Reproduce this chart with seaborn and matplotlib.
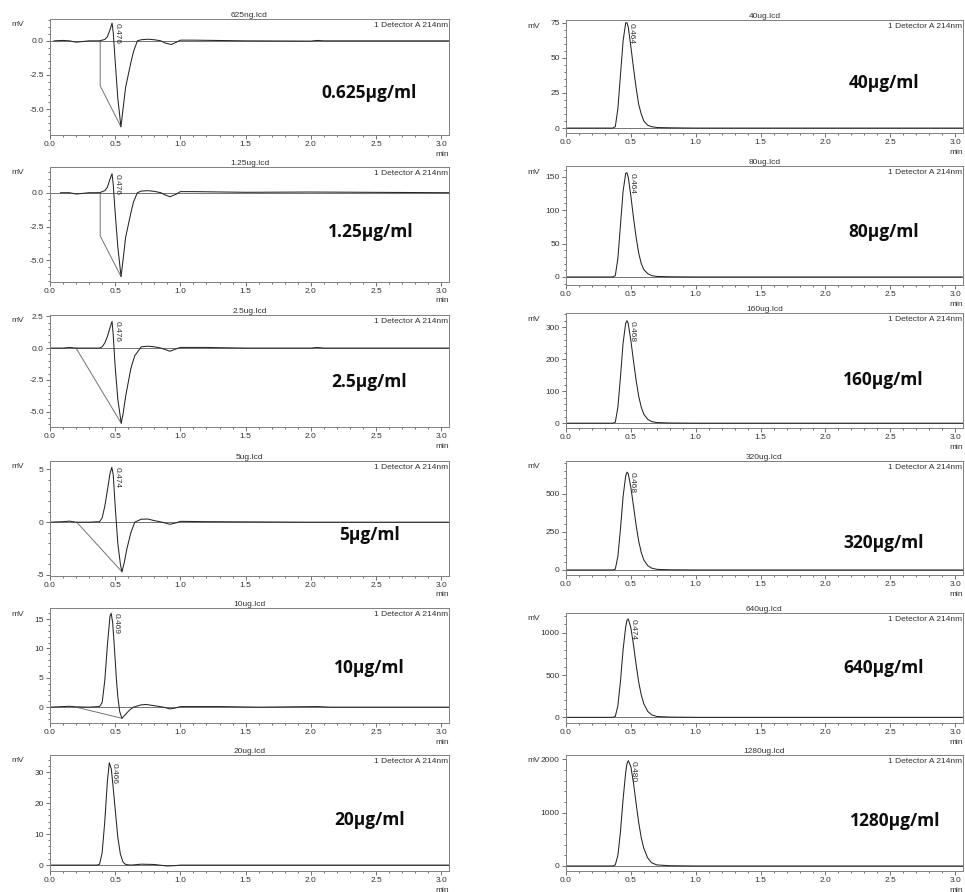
import numpy as np
import seaborn as sns
import matplotlib.pyplot as plt
from matplotlib.ticker import MultipleLocator, AutoMinorLocator, FormatStrFormatter

# ---- data ----
files_left = ["625ng.lcd", "1.25ug.lcd", "2.5ug.lcd", "5ug.lcd", "10ug.lcd", "20ug.lcd"]
conc_left = ["0.625μg/ml", "1.25μg/ml", "2.5μg/ml", "5μg/ml", "10μg/ml", "20μg/ml"]
rt_left = ["0.476", "0.476", "0.476", "0.474", "0.469", "0.466"]

files_right = ["40ug.lcd", "80ug.lcd", "160ug.lcd", "320ug.lcd", "640ug.lcd", "1280ug.lcd"]
conc_right = ["40μg/ml", "80μg/ml", "160μg/ml", "320μg/ml", "640μg/ml", "1280μg/ml"]
rt_right = ["0.464", "0.464", "0.468", "0.468", "0.474", "0.480"]

# low concentrations: positive peak followed by a negative system peak
t_625 = [0.03, 0.10, 0.15, 0.20, 0.25, 0.30, 0.38, 0.42, 0.44, 0.46, 0.476, 0.485, 0.50, 0.52, 0.544,
         0.56, 0.58, 0.60, 0.62, 0.64, 0.67, 0.70, 0.75, 0.80, 0.85, 0.88, 0.93, 0.97, 1.00, 1.10,
         1.50, 2.00, 2.05, 2.10, 3.06]
y_625 = [0.0, 0.03, 0.0, -0.1, -0.05, 0.0, 0.0, 0.1, 0.3, 0.8, 1.3, 0.6, -1.5, -4.2, -6.3,
         -5.0, -3.4, -2.5, -1.6, -0.8, 0.0, 0.08, 0.12, 0.08, 0.0, -0.15, -0.27, -0.1, 0.05, 0.05,
         0.0, -0.02, 0.03, 0.0, 0.0]
t_125 = [0.08, 0.15, 0.20, 0.25, 0.30, 0.38, 0.42, 0.44, 0.46, 0.476, 0.485, 0.50, 0.52, 0.545,
         0.56, 0.58, 0.60, 0.62, 0.64, 0.67, 0.70, 0.75, 0.80, 0.85, 0.88, 0.92, 0.97, 1.00, 1.10,
         1.50, 2.00, 3.06]
y_125 = [0.0, 0.0, -0.1, -0.05, 0.0, 0.0, 0.15, 0.4, 1.0, 1.4, 0.6, -1.5, -4.0, -6.2,
         -5.0, -3.3, -2.4, -1.5, -0.7, 0.0, 0.12, 0.15, 0.1, 0.0, -0.15, -0.3, -0.1, 0.08, 0.08,
         0.03, 0.05, 0.0]
t_25 = [0.0, 0.10, 0.15, 0.20, 0.30, 0.38, 0.40, 0.42, 0.44, 0.46, 0.476, 0.485, 0.50, 0.52, 0.546,
        0.56, 0.58, 0.60, 0.62, 0.65, 0.70, 0.75, 0.80, 0.85, 0.88, 0.92, 0.97, 1.00, 1.20, 1.50,
        2.00, 2.05, 2.10, 3.06]
y_25 = [0.0, 0.0, 0.05, 0.0, 0.0, 0.0, 0.1, 0.4, 0.9, 1.6, 2.1, 1.0, -1.5, -4.0, -5.9,
        -5.2, -3.8, -2.7, -1.6, -0.6, 0.1, 0.15, 0.1, 0.0, -0.1, -0.25, -0.05, 0.05, 0.05, 0.0,
        0.0, 0.05, 0.0, 0.0]
t_5 = [0.0, 0.10, 0.15, 0.20, 0.30, 0.38, 0.40, 0.42, 0.44, 0.46, 0.474, 0.485, 0.50, 0.52, 0.54,
       0.552, 0.57, 0.59, 0.62, 0.65, 0.70, 0.75, 0.80, 0.86, 0.92, 0.97, 1.00, 1.20, 1.50, 2.00, 3.06]
y_5 = [0.0, 0.05, 0.1, 0.0, 0.0, 0.05, 0.4, 1.5, 3.0, 4.6, 5.2, 4.5, 1.5, -2.0, -4.0,
       -4.7, -3.8, -2.5, -1.0, 0.0, 0.28, 0.3, 0.15, 0.0, -0.2, -0.05, 0.08, 0.05, 0.03, 0.0, 0.0]
t_10 = [0.0, 0.15, 0.20, 0.30, 0.38, 0.40, 0.42, 0.44, 0.46, 0.469, 0.48, 0.49, 0.50, 0.51, 0.52,
        0.535, 0.552, 0.58, 0.61, 0.64, 0.70, 0.74, 0.80, 0.87, 0.92, 0.96, 1.00, 1.30, 1.60, 2.05,
        2.15, 3.06]
y_10 = [0.0, 0.15, 0.05, 0.0, 0.1, 0.8, 4.5, 10.5, 15.5, 16.0, 14.5, 11.5, 8.0, 4.5, 1.8,
        -0.8, -1.9, -1.2, -0.5, 0.0, 0.4, 0.45, 0.25, 0.0, -0.3, -0.15, 0.1, 0.1, 0.0, 0.1,
        0.0, 0.0]
t_20 = [0.0, 0.36, 0.38, 0.40, 0.42, 0.44, 0.455, 0.47, 0.48, 0.50, 0.52, 0.54, 0.56, 0.58, 0.62,
        0.70, 0.80, 0.90, 0.95, 1.00, 1.50, 2.00, 3.06]
y_20 = [0.0, 0.0, 0.3, 4.0, 14.0, 27.0, 33.0, 31.0, 27.0, 18.0, 9.0, 3.5, 1.0, 0.2, 0.0,
        0.3, 0.2, -0.3, -0.2, 0.0, 0.0, 0.0, 0.0]

# integration baselines drawn by the software
bl_x = [[0.385, 0.385, 0.544], [0.385, 0.385, 0.545], [0.20, 0.546], [0.205, 0.552], [0.20, 0.552], []]
bl_y = [[0.0, -3.3, -6.3], [0.0, -3.2, -6.2], [0.0, -5.9], [0.0, -4.7], [0.0, -1.9], []]

# high concentrations: single tailing peak, shared time grid
t_high = [0.0, 0.36, 0.38, 0.40, 0.42, 0.44, 0.46, 0.47, 0.48, 0.50, 0.52, 0.54, 0.56, 0.58,
          0.60, 0.63, 0.66, 0.70, 0.80, 1.00, 3.06]
y_40 = [0, 0, 1, 14, 38, 62, 75, 75, 72, 58, 43, 29, 17, 10, 5, 2, 1, 0.4, 0.2, 0, 0]
y_80 = [0, 0, 2, 28, 78, 128, 155, 156, 149, 121, 89, 60, 36, 20, 11, 5, 2, 0.8, 0.3, 0, 0]
y_160 = [0, 0, 3, 50, 145, 250, 312, 320, 310, 258, 195, 135, 85, 50, 28, 12, 5, 2, 0.6, 0, 0]
y_320 = [0, 0, 5, 90, 270, 480, 615, 640, 630, 540, 420, 295, 190, 115, 65, 28, 12, 4, 1, 0, 0]
y_640 = [0, 0, 10, 140, 430, 800, 1070, 1150, 1165, 1060, 860, 630, 420, 265, 160, 70, 30, 10, 3, 0, 0]
y_1280 = [0, 0, 20, 200, 650, 1250, 1750, 1920, 1975, 1860, 1560, 1180, 820, 530, 330, 150, 60, 20, 5, 0, 0]

t_left = [t_625, t_125, t_25, t_5, t_10, t_20]
y_left = [y_625, y_125, y_25, y_5, y_10, y_20]
y_right = [y_40, y_80, y_160, y_320, y_640, y_1280]

yticks_left = [[-5.0, -2.5, 0.0], [-5.0, -2.5, 0.0], [-5.0, -2.5, 0.0, 2.5], [-5, 0, 5], [0, 5, 10, 15], [0, 10, 20, 30]]
yticks_right = [[0, 25, 50, 75], [0, 50, 100, 150], [0, 100, 200, 300], [0, 250, 500], [0, 500, 1000], [0, 1000, 2000]]

# ---- layout (pixels of the 965x892 canvas) ----
W, H = 965, 892
ylim_left = [(-6.9, 1.6), (-6.6, 1.9), (-6.2, 2.6), (-5.1, 5.8), (-2.7, 16.9), (-1.9, 35.5)]
ylim_right = [(-3.5, 77), (-12, 166), (-15, 344), (-33, 713), (-67, 1235), (-94, 2080)]
rows_left = [(19, 135), (167, 282), (315, 427), (461, 576), (608, 723), (755, 871)]
rows_right = [(20, 133), (166, 285), (313, 428), (461, 575), (613, 723), (755, 871)]
lab_left = [(0.80, 0.36), (0.805, 0.435), (0.80, 0.40), (0.80, 0.36), (0.80, 0.48), (0.80, 0.44)]
lab_right = [(0.80, 0.44), (0.80, 0.445), (0.80, 0.42), (0.80, 0.28), (0.80, 0.50), (0.83, 0.43)]

sns.set_style("ticks")
plt.rcParams['font.family'] = ['Liberation Sans', 'DejaVu Sans']

fig = plt.figure(figsize=(W / 100, H / 100), dpi=100)
grey = '0.45'
fs = 6


def draw_panel(x0, x1, top, bot, t, y, fname, conc, rt, ylim, yticks, lab, fmt, bx=None, by=None):
    ax = fig.add_axes([x0 / W, 1 - bot / H, (x1 - x0) / W, (bot - top) / H])
    ax.axhline(0, color=grey, lw=0.7, zorder=1)
    if bx:
        ax.plot(bx, by, color=grey, lw=0.7, zorder=1)
    sns.lineplot(x=t, y=y, ax=ax, color='0.15', lw=0.75, zorder=2)
    ax.set_xlim(0, 3.06)
    ax.set_ylim(*ylim)
    ax.set_yticks(yticks)
    ax.yaxis.set_major_formatter(FormatStrFormatter(fmt))
    ax.xaxis.set_major_locator(MultipleLocator(0.5))
    ax.xaxis.set_minor_locator(MultipleLocator(0.1))
    ax.xaxis.set_major_formatter(FormatStrFormatter('%.1f'))
    ax.yaxis.set_minor_locator(AutoMinorLocator(5))
    ax.tick_params(which='both', direction='out', width=0.6, colors='0.35', labelsize=fs,
                   labelcolor='0.2', pad=1.5)
    ax.tick_params(which='major', length=3)
    ax.tick_params(which='minor', length=1.5)
    for s in ax.spines.values():
        s.set_color('0.5')
        s.set_linewidth(0.7)
    ax.set_xlabel('')
    ax.set_ylabel('')
    ax.set_title(fname, fontsize=fs, pad=1.5, color='0.2')
    ax.text(0.997, 0.975, '1 Detector A 214nm', transform=ax.transAxes, ha='right', va='top',
            fontsize=fs, color='0.2')
    ax.annotate('mV', xy=(0, 1), xycoords='axes fraction', xytext=(-39, -6),
                textcoords='offset pixels', ha='left', va='center', fontsize=fs, color='0.2')
    ax.annotate('min', xy=(1, 0), xycoords='axes fraction', xytext=(0, -19),
                textcoords='offset pixels', ha='right', va='center', fontsize=fs, color='0.2')
    # retention time label next to the apex
    i = int(np.argmax(y))
    ax.text(t[i] + 0.04, y[i], rt, rotation=270, ha='center', va='top', fontsize=fs, color='0.2')
    ax.text(lab[0], lab[1], conc, transform=ax.transAxes, ha='center', va='center',
            fontsize=12.5, fontweight='bold', family=['Open Sans', 'DejaVu Sans'], color='0.05')
    return ax


for k in range(6):
    top, bot = rows_left[k]
    fmt = '%.1f' if k < 3 else '%d'
    draw_panel(50, 449, top, bot, t_left[k], y_left[k], files_left[k], conc_left[k], rt_left[k],
               ylim_left[k], yticks_left[k], lab_left[k], fmt, bl_x[k], bl_y[k])

for k in range(6):
    top, bot = rows_right[k]
    draw_panel(566, 963, top, bot, t_high, y_right[k], files_right[k], conc_right[k], rt_right[k],
               ylim_right[k], yticks_right[k], lab_right[k], '%d')

fig.savefig("out.png", dpi=100, facecolor='white')
